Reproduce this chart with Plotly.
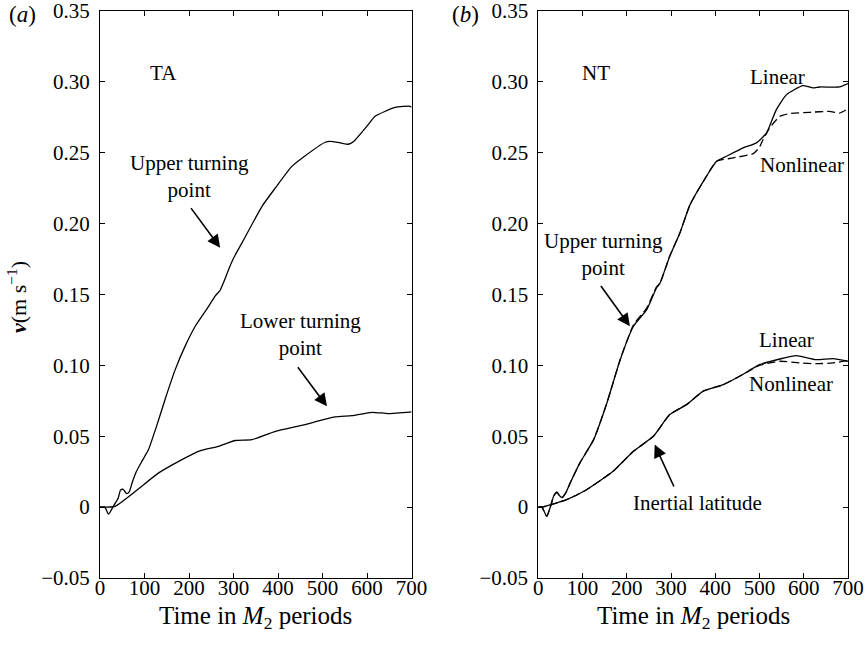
import plotly.graph_objects as go

# ---- data: velocity (m/s) vs time in M2 periods ----
# (a) TA
ta_upper_t = [0, 11, 19, 30, 41, 46, 52, 60, 66, 72, 82, 94, 109, 127, 146, 169, 191, 214,
              221, 244, 259, 270, 277, 292, 304, 319, 364, 394, 431, 453, 506, 517, 540,
              558, 570, 603, 618, 663, 697, 700]
ta_upper_v = [0, 0, -0.005, 0.0006, 0.0065, 0.012, 0.0125, 0.0095, 0.011, 0.017, 0.0253,
              0.0323, 0.0406, 0.057, 0.0758, 0.097, 0.1134, 0.1276, 0.131, 0.1417, 0.149,
              0.153, 0.158, 0.170, 0.178, 0.1864, 0.2122, 0.2252, 0.2404, 0.246, 0.2574,
              0.258, 0.257, 0.256, 0.258, 0.270, 0.2757, 0.282, 0.2828, 0.282]

ta_lower_t = [0, 34, 79, 131, 184, 221, 266, 304, 341, 394, 453, 528, 566, 611, 648, 700]
ta_lower_v = [0, 0.0006, 0.011, 0.024, 0.0335, 0.0394, 0.0429, 0.047, 0.0476, 0.0535,
              0.0577, 0.0636, 0.0645, 0.0669, 0.066, 0.0672]

# (b) NT
nt_upper_lin_t = [0, 8, 19, 28, 35, 42, 48, 54, 62, 72, 94, 125, 155, 185, 215, 245, 267,
                  275, 297, 320, 343, 380, 403, 425, 463, 493, 516, 538, 561, 598, 621,
                  636, 681, 700]
nt_upper_lin_v = [0, 0, -0.0065, 0.001, 0.008, 0.0105, 0.008, 0.0068, 0.010, 0.017, 0.0312,
                  0.0476, 0.0735, 0.104, 0.1276, 0.1393, 0.1546, 0.158, 0.177, 0.1934,
                  0.2134, 0.2334, 0.244, 0.2475, 0.2534, 0.257, 0.264, 0.2804, 0.291,
                  0.2974, 0.2957, 0.2964, 0.2964, 0.2988]

nt_upper_nl_t = [0, 8, 19, 28, 35, 42, 48, 54, 62, 72, 94, 125, 155, 185, 215, 245, 267,
                 275, 297, 320, 343, 380, 403, 441, 486, 500, 508, 523, 546, 568, 613,
                 658, 681, 700]
nt_upper_nl_v = [0, 0, -0.0065, 0.001, 0.008, 0.0105, 0.008, 0.0068, 0.010, 0.017, 0.0312,
                 0.0476, 0.0735, 0.104, 0.1285, 0.1405, 0.1552, 0.158, 0.177, 0.1934,
                 0.2134, 0.2334, 0.244, 0.2464, 0.2494, 0.254, 0.2593, 0.2675, 0.2757,
                 0.2776, 0.2785, 0.2792, 0.278, 0.281]

nt_lower_lin_t = [0, 8, 64, 109, 169, 215, 260, 297, 335, 372, 418, 455, 500, 546, 583,
                  628, 666, 700]
nt_lower_lin_v = [0, 0, 0.0053, 0.0123, 0.0253, 0.0394, 0.05, 0.0653, 0.0723, 0.0817,
                  0.0864, 0.0923, 0.1005, 0.1045, 0.1069, 0.104, 0.1048, 0.1029]

nt_lower_nl_t = [0, 8, 64, 109, 169, 215, 260, 297, 335, 372, 418, 455, 500, 546, 591,
                 628, 666, 700]
nt_lower_nl_v = [0, 0, 0.0053, 0.0123, 0.0253, 0.0394, 0.05, 0.0653, 0.0723, 0.0817,
                 0.0864, 0.0923, 0.1, 0.1029, 0.1017, 0.1012, 0.1017, 0.1035]

x_ticks = [0, 100, 200, 300, 400, 500, 600, 700]
y_ticks = [-0.05, 0, 0.05, 0.10, 0.15, 0.20, 0.25, 0.30, 0.35]
y_ticktext = ["\u22120.05", "0", "0.05", "0.10", "0.15", "0.20", "0.25", "0.30", "0.35"]

FONT = "Liberation Serif"
solid = dict(color="black", width=1.3, shape="spline", smoothing=0.5)
dashed = dict(color="black", width=1.3, dash="8px,4px", shape="spline", smoothing=0.5)

fig = go.Figure()
fig.add_trace(go.Scatter(x=ta_upper_t, y=ta_upper_v, mode="lines", line=solid, xaxis="x", yaxis="y"))
fig.add_trace(go.Scatter(x=ta_lower_t, y=ta_lower_v, mode="lines", line=solid, xaxis="x", yaxis="y"))
fig.add_trace(go.Scatter(x=nt_upper_nl_t, y=nt_upper_nl_v, mode="lines", line=dashed, xaxis="x2", yaxis="y2"))
fig.add_trace(go.Scatter(x=nt_lower_nl_t, y=nt_lower_nl_v, mode="lines", line=dashed, xaxis="x2", yaxis="y2"))
fig.add_trace(go.Scatter(x=nt_upper_lin_t, y=nt_upper_lin_v, mode="lines", line=solid, xaxis="x2", yaxis="y2"))
fig.add_trace(go.Scatter(x=nt_lower_lin_t, y=nt_lower_lin_v, mode="lines", line=solid, xaxis="x2", yaxis="y2"))

tickfont = dict(family=FONT, size=21, color="black")
xax = dict(range=[0, 700], tickvals=x_ticks, ticks="inside", ticklen=5, tickwidth=1,
           tickcolor="black", mirror="ticks", showline=True, linecolor="black", linewidth=1,
           showgrid=False, zeroline=False, tickfont=tickfont, ticklabelstandoff=-9,
           automargin=False, ticklabeloverflow="allow")
yax = dict(range=[-0.05, 0.35], tickvals=y_ticks, ticktext=y_ticktext, ticks="inside",
           ticklen=5, tickwidth=1, tickcolor="black", mirror="ticks", showline=True,
           linecolor="black", linewidth=1, showgrid=False, zeroline=False,
           tickfont=tickfont, ticklabelstandoff=5, automargin=False,
           ticklabeloverflow="allow")

fig.update_layout(
    width=865, height=645,
    margin=dict(l=100, r=17, t=11, b=67, autoexpand=False),
    paper_bgcolor="white", plot_bgcolor="white",
    showlegend=False,
    font=dict(family=FONT, size=21, color="black"),
    xaxis=dict(xax, domain=[0, 0.4165], anchor="y"),
    yaxis=dict(yax, domain=[0, 1], anchor="x"),
    xaxis2=dict(xax, domain=[0.586, 1], anchor="y2"),
    yaxis2=dict(yax, domain=[0, 1], anchor="x2"),
)

txt = dict(family=FONT, size=21, color="black")
ann = []

def label(text, x, y, xref, yref, size=21):
    ann.append(dict(text=text, x=x, y=y, xref=xref, yref=yref, showarrow=False,
                    font=dict(txt, size=size), xanchor="center", yanchor="middle"))

def arrow(x, y, ax, ay, xref, yref):
    ann.append(dict(text="", x=x, y=y, ax=ax, ay=ay, xref=xref, yref=yref,
                    axref=xref, ayref=yref, showarrow=True, arrowhead=2,
                    arrowsize=1.6, arrowwidth=1.6, arrowcolor="black", standoff=0))

# panel (a)
label("TA", 142, 0.3065, "x", "y")
label("Upper turning<br>point", 202, 0.2335, "x", "y")
arrow(270, 0.183, 202, 0.212, "x", "y")
label("Lower turning<br>point", 451, 0.1217, "x", "y")
arrow(510, 0.0711, 442, 0.0998, "x", "y")

# panel (b)
label("NT", 130, 0.3065, "x2", "y2")
label("Linear", 541, 0.3037, "x2", "y2")
label("Nonlinear", 597, 0.2416, "x2", "y2")
label("Upper turning<br>point", 148, 0.178, "x2", "y2")
arrow(207, 0.1276, 139, 0.157, "x2", "y2")
label("Linear", 561, 0.118, "x2", "y2")
label("Nonlinear", 572, 0.0871, "x2", "y2")
label("Inertial latitude", 359, 0.0032, "x2", "y2")
arrow(263, 0.0441, 308, 0.0135, "x2", "y2")

# panel letters, axis titles
label("(<i>a</i>)", -0.104, 0.993, "paper", "paper", size=23)
label("(<i>b</i>)", 0.488, 0.993, "paper", "paper", size=23)
label("Time in <i>M</i><sub>2</sub> periods", 0.2083, -0.0688, "paper", "paper", size=25)
label("Time in <i>M</i><sub>2</sub> periods", 0.793, -0.0688, "paper", "paper", size=25)
ann.append(dict(text="<b><i>v</i></b>(m s<sup>\u22121</sup>)", x=-0.111, y=0.4956,
                xref="paper", yref="paper", showarrow=False, textangle=-90,
                font=dict(txt, size=22), xanchor="center", yanchor="middle"))

fig.update_layout(annotations=ann)
fig.write_html("out.html")
